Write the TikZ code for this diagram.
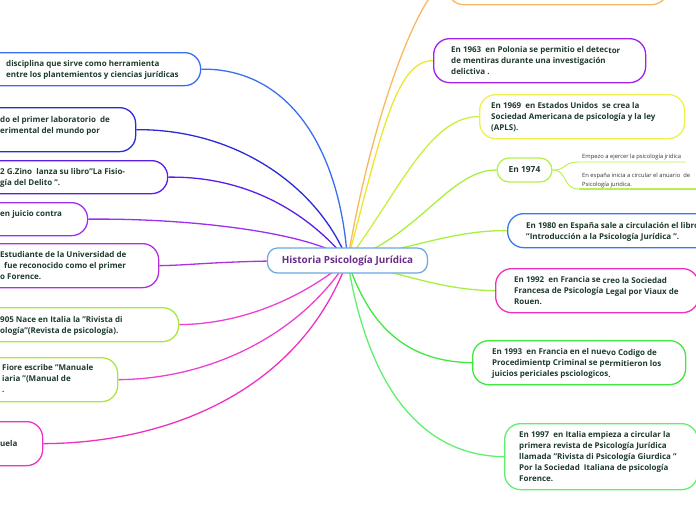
\documentclass[tikz,border=0pt]{standalone}
\usepackage{fontspec}
\setmainfont{Open Sans}
\usetikzlibrary{backgrounds}
\definecolor{txtc}{HTML}{1E3B2C}
\definecolor{cA}{HTML}{3A6EF0}
\definecolor{cB}{HTML}{2A2AD6}
\definecolor{cC}{HTML}{5A1EE6}
\definecolor{cD}{HTML}{9B30F0}
\definecolor{cE}{HTML}{B030E0}
\definecolor{cLG}{HTML}{A8E840}
\definecolor{cMag}{HTML}{F040D0}
\definecolor{cPink}{HTML}{F030C0}
\definecolor{cOr}{HTML}{F8B860}
\definecolor{cPur}{HTML}{A020F0}
\definecolor{cYel}{HTML}{E8E830}
\definecolor{cYG}{HTML}{C8F040}
\definecolor{cYB}{HTML}{EEF050}
\definecolor{c74}{HTML}{B8F050}
\definecolor{cLine}{HTML}{A8F040}
\definecolor{cBl}{HTML}{3A78F0}
\definecolor{cPk}{HTML}{F030B8}
\definecolor{cGr}{HTML}{40E840}
\definecolor{cGr2}{HTML}{60F070}
\definecolor{cCen}{HTML}{6AA8E0}
\definecolor{cCenT}{HTML}{6B2D8B}
\definecolor{cSub}{HTML}{333333}
\newcommand{\lw}[1]{\raisebox{-1.2pt}{#1}}
\begin{document}
\begin{tikzpicture}[x=1pt,y=-1pt,
  box/.style={draw, rounded corners=16pt, line width=1.3pt, fill=white, inner sep=0pt, anchor=north west},
  txt/.style={anchor=base west, align=left, inner sep=0pt, text=txtc,
     font=\fontsize{8}{11}\selectfont\bfseries},
  subtxt/.style={anchor=base west, align=left, inner sep=0pt, text=cSub,
     font=\fontsize{5.8}{9}\selectfont},
  link/.style={line width=1.3pt}]
\useasboundingbox (0,0) rectangle (696,520);
\clip (0,0) rectangle (696,520);

% center
\node[draw=cCen, fill=white, rounded corners=10pt, line width=1.2pt,
  minimum width=160pt, minimum height=25pt, inner sep=0pt, text=cCenT,
  font=\fontsize{9.9}{11}\selectfont\bfseries] (c) at (347.5,260.5) {Historia Psicología Jurídica};

% boxes
\path
  (-30,52)  node[box, draw=cA, minimum width=230pt, minimum height=33pt] (b1) {}
  (-30,107) node[box, draw=cB, minimum width=165pt, minimum height=44pt] (b2) {}
  (-30,160) node[box, draw=cC, minimum width=197pt, minimum height=33pt] (b3) {}
  (-30,202) node[box, draw=cD, minimum width=117pt, minimum height=33pt] (b4) {}
  (-30,243) node[box, draw=cE, minimum width=188pt, minimum height=44pt] (b5) {}
  (-30,307) node[box, draw=cLG, minimum width=208pt, minimum height=34pt] (b6) {}
  (-30,357) node[box, draw=cLG, minimum width=147pt, minimum height=44pt] (b7) {}
  (-30,421) node[box, draw=cPink, minimum width=72pt, minimum height=44pt] (b8) {}
  (447,-40) node[box, draw=cOr, minimum width=220pt, minimum height=44pt] (bo) {}
  (433,38)  node[box, draw=cPur, minimum width=212pt, minimum height=44pt] (b63) {}
  (479,94)  node[box, draw=cYB, minimum width=205pt, minimum height=44pt] (b69) {}
  (507,213) node[box, draw=cBl, minimum width=223pt, minimum height=34pt] (b80) {}
  (495,268) node[box, draw=cPk, minimum width=203pt, minimum height=44pt] (b92) {}
  (472,340) node[box, draw=cGr, minimum width=213pt, minimum height=44pt] (b93) {}
  (504,423) node[box, draw=cGr2, minimum width=193pt, minimum height=66pt] (b97) {};
\node[draw=c74, fill=white, rounded corners=12pt, line width=1.3pt, minimum width=55pt,
  minimum height=24pt, inner sep=0pt, text=txtc, font=\fontsize{8.4}{10}\selectfont\bfseries]
  (b74) at (524.5,170) {En 1974};

% texts (anchor = baseline of the last line)
\node[txt] (t1) at (6,77.3) {disciplina que sirve como herramienta\\entre los plantemientos y ciencias jurídicas};
\node[txt] (t2) at (0,133) {do el primer laboratorio~ de\\erimental del mundo por};
\node[txt] (t3) at (0,185.7) {2 G.Zino~ lanza su libro"La Fisio-\\gía del Delito ".};
\node[txt] (t4) at (0,216) {en juicio contra};
\node[txt] (t5) at (0,279) {Estudiante de la Universidad de\\\hspace*{4pt}fue reconocido como el primer\\o Forence.};
\node[txt] (t6) at (0,333) {905 Nace en Italia la "Rivista di\\ología"(Revista de psicología).};
\node[txt] (t7) at (2,392.5) {Fiore escribe "Manuale\\iaria "(Manual de\\.};
\node[txt] (t8) at (0,446) {uela};
\node[txt] (t63) at (451,74) {En 1963~ en Polonia se permitio el detec\lw{tor}\\de mentiras durante una investigación\\delictiva .};
\node[txt] (t69) at (491,130.7) {En 1969~ en Estados Unidos~ se crea la\\Sociedad Americana de psicología y la ley\\(APLS).};
\node[txt] (t80) at (526,239) {En 1980 en España sale a circulación el libro\\"Introducción a la Psicología Jurídica ".};
\node[txt] (t92) at (514,304) {En 1992~ en Francia se \lw{creo la Sociedad}\\Francesa de Psicología \lw{Legal por Viaux de}\\Rouen.};
\node[txt] (t93) at (492,376) {En 1993~ en Francia en el nue\lw{vo Codigo de}\\Procedimientp Criminal se pe\lw{rmitieron los}\\juicios periciales psciologicos\lw{.}};
\node[txt] (t97) at (519,481) {En 1997~ en Italia empieza a circular la\\primera revista de Psicología Jurídica\\llamada "Rivista di Psicología Giurdica "\\Por la Sociedad~ Italiana de psicología\\Forence.};

% 1974 sub-topics
\node[subtxt] (s1) at (582,158.5) {Empezo a ejercer la psicología jridica};
\node[subtxt] (s2) at (582,186) {En españa inicia a circular el anuario~ de\\Psicología juridica.};
\coordinate (u1a) at (579,162);
\coordinate (u1b) at (686,162);
\coordinate (u2a) at (579,189);
\coordinate (u2b) at (700,189);

\begin{scope}[on background layer]
\clip (0,0) rectangle (696,520);
% left side
\draw[link, cA] (c.center) .. controls (340,150) and (290,68) .. (b1.east);
\draw[link, cB] (c.center) .. controls (320,190) and (240,129) .. (b2.east);
\draw[link, cC] (c.center) .. controls (310,215) and (250,176) .. (b3.east);
\draw[link, cD] (c.center) .. controls (320,235) and (200,218) .. (b4.east);
\draw[link, cE] (c.center) .. controls (220,260) and (200,265) .. (b5.east);
\draw[link, cMag] (c.center) .. controls (300,300) and (240,324) .. (b6.east);
\draw[link, cMag] (c.center) .. controls (300,335) and (210,379) .. (b7.east);
\draw[link, cPink] (c.center) .. controls (300,390) and (170,443) .. (b8.east);
% right side
\draw[link, cOr] (c.center) .. controls (375,100) and (425,-18) .. (bo.west);
\draw[link, cYel] (c.center) .. controls (380,140) and (395,60) .. (b63.west);
\draw[link, cYG] (c.center) .. controls (400,190) and (430,116) .. (b69.west);
\draw[link, cLine] (c.center) .. controls (420,235) and (450,170) .. (b74.west);
\draw[link, cLine] (c.center) .. controls (420,245) and (460,230) .. (b80.west);
\draw[link, cLine] (c.center) .. controls (420,280) and (450,290) .. (b92.west);
\draw[link, cGr] (c.center) .. controls (370,330) and (410,362) .. (b93.west);
\draw[link, cGr2] (c.center) .. controls (370,400) and (430,456) .. (b97.west);
% 1974 children
\draw[line width=0.9pt, c74] (b74.east) .. controls (568,170) and (562,162) .. (u1a) -- (u1b);
\draw[line width=0.9pt, c74] (b74.east) .. controls (568,170) and (562,189) .. (u2a);
\draw[line width=2pt, c74] (u2a) -- (u2b);
\end{scope}
\end{tikzpicture}
\end{document}
